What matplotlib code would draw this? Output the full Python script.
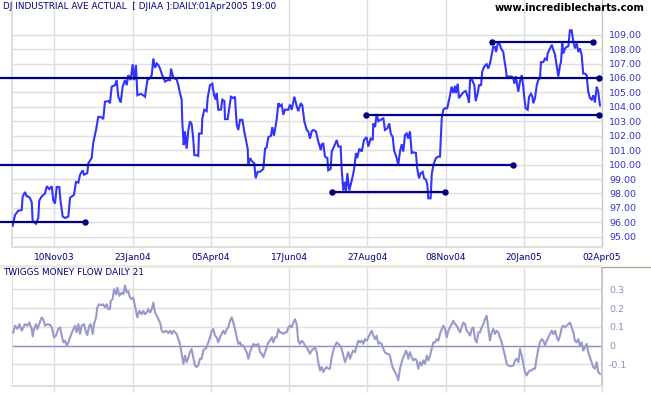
import matplotlib
matplotlib.use("Agg")
import matplotlib.pyplot as plt
from matplotlib.patches import Rectangle
from matplotlib.lines import Line2D

# ---------------- data ----------------
tick_days = [27, 77, 127, 177, 227, 277, 327, 377]
tick_labels = ["10Nov03", "23Jan04", "05Apr04", "17Jun04", "27Aug04", "08Nov04", "20Jan05", "02Apr05"]

price_day = [0.4, 1.9, 4.0, 6.2, 6.8, 8.3, 9.4, 10.4, 11.5, 12.6, 13.2, 15.3, 16.8, 17.4, 19.0,
             21.1, 22.2, 23.8, 25.4, 26.4, 27.5, 28.6, 30.2, 31.1, 32.4, 33.9, 36.0, 37.1, 39.6,
             40.9, 42.4, 43.5, 45.2, 46.0, 48.1, 48.8, 50.9, 51.9, 53.7, 55.1, 56.7, 58.3, 59.4,
             61.5, 62.6, 63.7, 65.8, 66.9, 67.9, 69.5, 70.7, 72.2, 73.3, 74.3, 75.8, 77.1, 78.0,
             79.2, 80.1, 82.2, 83.9, 85.0, 86.5, 88.2, 89.3, 90.3, 91.4, 92.5, 93.5, 94.6, 96.0,
             97.8, 99.5, 101.0, 101.6, 103.1, 105.2, 106.3, 107.3, 108.4, 108.8, 109.7, 110.5,
             111.6, 112.7, 113.7, 114.8, 115.8, 116.5, 118.0, 119.0, 119.5, 121.2, 121.6, 122.9,
             124.4, 125.0, 126.5, 128.0, 129.1, 130.2, 130.8, 131.8, 133.5, 134.4, 135.7, 136.1,
             137.8, 138.7, 139.9, 141.4, 142.5, 142.9, 143.6, 144.6, 145.7, 147.2, 148.4, 149.3,
             150.6, 151.0, 152.1, 153.5, 154.8, 155.7, 157.0, 158.5, 160.6, 161.7, 162.7, 163.8,
             165.5, 166.3, 167.4, 169.1, 170.2, 171.2, 172.3, 173.4, 174.4, 176.5, 177.6, 178.7,
             180.4, 181.9, 182.9, 184.5, 185.5, 186.8, 188.3, 189.3, 190.4, 191.5, 192.5, 194.2,
             195.7, 197.3, 197.9, 198.9, 200.0, 201.5, 202.1, 203.6, 204.3, 205.8, 207.5, 208.5,
             210.0, 210.7, 211.7, 212.8, 213.4, 214.3, 215.5, 217.1, 218.5, 219.8, 220.6, 221.9,
             223.5, 224.9, 226.6, 227.7, 229.2, 230.5, 230.9, 232.0, 233.0, 234.1, 235.6, 237.3,
             238.3, 239.8, 241.1, 242.0, 243.3, 244.1, 245.8, 246.8, 247.9, 249.0, 250.0, 251.1,
             252.2, 253.2, 254.3, 255.4, 256.4, 258.1, 258.9, 260.1, 261.1, 262.4, 263.3, 264.5,
             265.4, 266.0, 267.5, 268.2, 269.2, 270.9, 272.4, 273.5, 273.9, 274.6, 275.6, 276.7,
             278.1, 279.9, 280.9, 282.0, 283.1, 283.7, 284.8, 285.6, 286.9, 288.4, 289.9, 291.2,
             292.0, 292.7, 294.1, 295.4, 296.3, 297.6, 298.4, 299.7, 300.5, 301.8, 303.3, 304.3,
             305.4, 306.5, 307.5, 308.6, 309.3, 310.4, 311.4, 312.5, 313.9, 314.6, 315.5, 316.1,
             317.6, 319.3, 320.3, 321.0, 321.8, 322.5, 323.5, 324.6, 325.7, 326.7, 327.4, 328.2,
             329.5, 330.4, 331.6, 332.5, 333.1, 334.2, 335.3, 336.3, 337.4, 338.0, 339.5, 340.6,
             341.7, 342.3, 343.8, 344.9, 345.9, 347.0, 348.0, 349.1, 350.2, 350.8, 351.6, 352.3,
             353.4, 354.4, 355.5, 356.5, 357.6, 358.7, 359.7, 360.8, 361.9, 362.9, 364.0, 365.0,
             366.1, 367.2, 368.2, 369.3, 370.4, 371.4, 372.5, 373.6, 374.6, 375.7]
price_close = [95.76, 96.5, 96.8, 96.85, 97.77, 98.1, 97.8, 97.8, 97.66, 97.4, 96.1, 95.9, 96.3, 97.5, 97.8,
               98.0, 98.5, 98.3, 98.5, 97.5, 97.3, 98.45, 98.45, 97.4, 96.4, 96.3, 96.4, 97.7, 97.9,
               98.8, 98.75, 99.3, 99.6, 99.3, 99.4, 100.1, 100.45, 101.5, 102.4, 103.3, 103.3, 103.15, 104.35,
               104.4, 104.25, 105.4, 105.5, 105.85, 104.7, 104.3, 105.4, 105.85, 105.5, 106.2, 105.85, 106.95, 105.85,
               106.9, 104.8, 104.9, 104.8, 104.7, 105.85, 106.0, 106.2, 107.35, 106.7, 107.0, 106.9, 106.65, 106.2,
               105.75, 105.85, 105.85, 106.65, 106.0, 105.9, 105.5, 104.95, 104.5, 103.0, 101.35, 102.3,
               101.1, 102.4, 103.0, 102.8, 101.8, 100.65, 100.65, 100.6, 102.15, 102.15, 103.2, 103.8,
               103.7, 104.6, 105.5, 105.6, 104.8, 104.5, 104.95, 103.8, 103.8, 104.5, 104.4, 103.15,
               103.15, 103.8, 104.7, 104.6, 104.7, 103.9, 102.75, 102.4, 103.1, 103.1, 102.3, 101.8,
               101.1, 99.97, 100.45, 100.2, 100.1, 99.05, 99.5, 99.5, 99.7, 101.1, 101.2, 101.9,
               102.0, 102.6, 102.0, 103.1, 104.25, 104.05, 104.15, 103.45, 103.8, 103.8, 104.15, 103.8,
               104.7, 104.05, 103.7, 104.25, 104.1, 103.0, 102.4, 102.3, 101.8, 102.3, 102.4, 102.3,
               101.6, 101.0, 101.4, 101.45, 100.55, 100.45, 99.6, 99.7, 100.9, 101.25, 101.7, 101.25,
               101.25, 99.6, 98.2, 98.8, 98.2, 99.4, 98.2, 98.9, 99.6, 100.8, 100.45, 101.1,
               100.9, 101.7, 101.9, 101.25, 101.8, 101.7, 102.85, 102.6, 103.5, 103.0, 103.1, 103.2,
               102.4, 102.5, 102.85, 102.15, 101.9, 101.0, 100.45, 99.97, 100.9, 101.4, 100.9, 102.05,
               102.15, 101.8, 102.3, 100.8, 100.85, 100.8, 99.75, 99.05, 99.4, 99.5, 99.05, 98.95,
               98.6, 97.66, 97.66, 99.3, 99.97, 100.45, 100.55, 100.55, 101.6, 103.2, 103.8, 103.9,
               103.9, 104.8, 105.4, 104.95, 105.45, 104.95, 105.6, 104.6, 104.8, 105.0, 105.1, 104.7,
               104.3, 105.85, 105.85, 105.5, 104.4, 104.95, 105.5, 105.5, 106.45, 106.8, 106.95, 106.65,
               107.0, 107.6, 108.15, 108.15, 107.8, 108.4, 108.4, 108.05, 107.8, 107.25, 106.65, 106.1,
               106.1, 106.1, 106.0, 105.6, 106.1, 105.75, 105.05, 105.75, 106.2, 105.4, 104.6, 103.9,
               103.8, 104.7, 104.9, 104.7, 104.25, 104.6, 105.5, 105.85, 106.0, 107.1, 107.1, 107.35,
               107.25, 107.7, 108.05, 108.3, 107.95, 107.6, 106.9, 106.1, 106.9, 107.1, 108.4, 107.7,
               108.05, 108.15, 108.2, 109.3, 109.3, 108.5, 108.05, 108.4, 107.8, 108.05, 107.6, 106.3,
               106.3, 106.2, 105.05, 104.6, 104.5, 104.8, 104.3, 105.4, 105.05, 104.1]

# support / resistance lines: level, start day, end day, dot at start
line_level = [106.0, 100.0, 96.0, 98.1, 103.4, 108.47]
line_start = [-8, -8, -8, 204.3, 226.0, 306.9]
line_end = [375.0, 320.4, 46.8, 276.9, 375.3, 371.0]
line_start_dot = [False, False, False, True, True, True]

mf_day = [0.8, 1.9, 3.4, 4.7, 6.2, 7.2, 8.3, 9.8, 11.1, 12.6, 13.2, 14.1, 15.3, 16.2, 17.4, 19.0,
          20.0, 21.1, 22.6, 24.3, 25.4, 26.8, 28.1, 29.6, 30.7, 31.8, 32.8, 33.9, 35.0, 36.0,
          37.5, 38.8, 40.3, 41.3, 42.4, 43.5, 44.5, 46.0, 47.3, 48.1, 49.4, 50.3, 51.6, 52.4,
          53.7, 54.5, 55.8, 57.3, 58.3, 59.4, 60.5, 61.5, 62.6, 63.1, 64.3, 65.2, 66.5, 67.3,
          68.6, 70.1, 71.1, 72.2, 73.3, 74.3, 75.4, 76.5, 77.5, 78.6, 79.2, 80.1, 81.3, 82.9,
          83.9, 85.0, 86.1, 87.1, 88.2, 89.3, 90.3, 91.4, 92.5, 93.5, 94.6, 95.7, 96.7, 98.4,
          99.9, 101.0, 102.1, 103.1, 104.2, 105.2, 106.3, 107.4, 108.4, 109.5, 110.5, 111.6,
          112.7, 113.7, 114.8, 115.8, 116.9, 118.0, 119.0, 120.1, 121.2, 122.2, 123.3, 124.4,
          125.4, 126.5, 127.6, 128.6, 129.7, 130.8, 131.8, 132.9, 134.0, 135.0, 136.1, 137.2,
          138.2, 139.3, 140.4, 141.4, 142.5, 143.6, 144.6, 145.7, 146.8, 147.8, 148.9, 150.0,
          151.0, 152.1, 153.2, 154.2, 155.9, 157.4, 158.5, 159.6, 160.6, 161.7, 162.7, 163.8,
          164.9, 166.0, 167.0, 168.1, 169.1, 170.2, 171.3, 172.3, 173.4, 174.4, 175.5, 176.6,
          177.6, 178.7, 179.8, 180.8, 181.9, 182.9, 184.0, 185.1, 186.2, 187.2, 188.3, 189.3,
          190.4, 191.5, 192.5, 193.6, 194.7, 195.7, 196.8, 197.9, 198.9, 200.0, 201.1, 202.1,
          203.2, 204.3, 205.3, 206.4, 207.5, 208.5, 209.6, 210.7, 211.7, 212.8, 213.9, 214.9,
          216.0, 217.1, 218.1, 219.2, 220.3, 221.3, 222.4, 223.5, 224.5, 225.6, 226.6, 227.7,
          228.8, 229.8, 230.9, 232.0, 233.0, 234.1, 235.2, 236.2, 237.3, 238.3, 239.4, 240.5,
          241.5, 242.6, 243.6, 244.7, 245.8, 246.8, 247.9, 249.0, 250.0, 251.1, 251.8, 252.6,
          253.2, 254.3, 255.4, 256.4, 257.5, 258.6, 259.6, 260.7, 261.8, 262.8, 263.9, 265.0,
          266.0, 267.1, 268.2, 269.2, 270.3, 271.4, 272.4, 273.5, 274.6, 275.6, 276.7, 277.8,
          278.8, 279.9, 280.9, 282.0, 283.1, 284.2, 285.2, 286.3, 287.3, 288.4, 289.5, 290.5,
          291.6, 292.7, 293.7, 294.8, 295.8, 296.9, 298.0, 299.0, 300.1, 301.2, 302.2, 303.3,
          304.4, 305.4, 306.5, 307.6, 308.6, 309.7, 310.7, 311.8, 312.9, 313.9, 315.0, 316.1,
          317.1, 318.7, 320.4, 321.4, 322.5, 323.6, 324.6, 325.7, 326.7, 327.8, 328.9, 329.9,
          331.0, 332.1, 333.1, 334.2, 335.3, 336.3, 337.4, 338.5, 339.5, 340.6, 341.7, 342.7,
          343.8, 344.9, 345.9, 347.0, 348.1, 349.1, 350.2, 351.3, 352.3, 353.4, 354.4, 355.5,
          356.6, 357.6, 358.7, 359.7, 360.8, 361.9, 362.9, 364.0, 365.0, 366.1, 367.2, 368.2,
          369.3, 370.4, 371.4, 372.5, 373.6, 374.6, 375.7]
mf_value = [0.07, 0.106, 0.088, 0.114, 0.079, 0.097, 0.114, 0.106, 0.123, 0.088, 0.049, 0.088, 0.114, 0.088, 0.114, 0.15,
            0.138, 0.106, 0.114, 0.11, 0.097, 0.044, 0.053, 0.088, 0.097, 0.053, 0.017, 0.026, 0.0, 0.017,
            0.053, 0.079, 0.106, 0.07, 0.114, 0.062, 0.106, 0.114, 0.07, 0.056, 0.106, 0.114, 0.062, 0.114,
            0.15, 0.203, 0.22, 0.215, 0.22, 0.203, 0.22, 0.194, 0.194, 0.238, 0.247, 0.30, 0.273, 0.308,
            0.264, 0.282, 0.273, 0.32, 0.282, 0.29, 0.255, 0.247, 0.255, 0.211, 0.185, 0.15, 0.185, 0.167,
            0.185, 0.167, 0.176, 0.194, 0.176, 0.194, 0.229, 0.176, 0.159, 0.141, 0.123, 0.079, 0.07, 0.079,
            0.067, 0.079, 0.062, 0.079, 0.07, 0.062, 0.035, 0.007, -0.044, -0.097, -0.053, -0.088,
            -0.062, -0.035, -0.018, -0.062, -0.106, -0.114, -0.106, -0.07, -0.07, -0.026, -0.018, -0.009,
            0.017, 0.044, 0.079, 0.088, 0.053, 0.044, 0.017, 0.044, 0.062, 0.079, 0.062, 0.088,
            0.097, 0.132, 0.15, 0.123, 0.088, 0.044, 0.009, 0.017, 0.0, 0.0, -0.018, -0.035,
            -0.07, -0.035, -0.009, 0.009, 0.0, 0.009, -0.035, -0.044, -0.062, -0.035, -0.009, 0.017,
            0.026, 0.044, 0.017, 0.044, 0.044, 0.088, 0.07, 0.07, 0.062, 0.07, 0.07, 0.097,
            0.106, 0.097, 0.123, 0.141, 0.114, 0.026, 0.009, 0.026, 0.017, 0.0, -0.009, -0.026,
            -0.044, -0.026, -0.018, -0.009, -0.035, -0.088, -0.132, -0.114, -0.141, -0.123, -0.114, -0.123,
            -0.123, -0.062, -0.026, 0.0, 0.017, 0.009, 0.0, -0.018, -0.053, -0.088, -0.062, -0.035,
            -0.07, -0.044, -0.026, -0.035, 0.0, 0.026, 0.017, 0.026, 0.009, 0.035, 0.026, 0.044,
            0.062, 0.079, 0.053, 0.035, 0.053, 0.009, 0.017, 0.009, -0.018, -0.035, -0.044, -0.044,
            -0.053, -0.097, -0.123, -0.141, -0.159, -0.185, -0.123, -0.088, -0.062, -0.044, -0.026, -0.044,
            -0.07, -0.035, -0.062, -0.079, -0.07, -0.079, -0.123, -0.088, -0.106, -0.079, -0.097, -0.053,
            -0.079, -0.053, -0.018, 0.017, 0.017, 0.035, 0.026, 0.062, 0.088, 0.106, 0.088, 0.044,
            0.079, 0.097, 0.114, 0.132, 0.114, 0.106, 0.088, 0.07, 0.097, 0.123, 0.114, 0.079,
            0.07, 0.053, 0.088, 0.097, 0.035, 0.017, 0.07, 0.07, 0.097, 0.114, 0.141, 0.159,
            0.088, 0.026, 0.07, 0.088, 0.062, 0.079, 0.07, 0.044, 0.017, -0.018, -0.053, -0.097,
            -0.106, -0.11, -0.106, -0.079, -0.07, -0.088, -0.018, -0.053, -0.097, -0.141, -0.159, -0.141,
            -0.132, -0.132, -0.123, -0.123, -0.062, -0.018, 0.017, 0.035, 0.026, 0.0, 0.026, 0.044,
            0.062, 0.079, 0.062, 0.079, 0.044, 0.026, 0.053, 0.097, 0.106, 0.097, 0.106, 0.114,
            0.123, 0.097, 0.07, 0.026, 0.017, 0.035, 0.0, 0.017, -0.026, -0.009, 0.009, -0.035,
            -0.062, -0.088, -0.114, -0.123, -0.088, -0.141, -0.15]

price_ticks = list(range(95, 110))
mf_ticks = [-0.1, 0.0, 0.1, 0.2, 0.3]
mf_tick_labels = ["-0.1", "0", "0.1", "0.2", "0.3"]

title_text = "DJ INDUSTRIAL AVE ACTUAL  [ DJIAA ]:DAILY:01Apr2005 19:00"
site_text = "www.incrediblecharts.com"
mf_title = "TWIGGS MONEY FLOW DAILY 21"

# ---------------- styling ----------------
W, H = 651, 395
GRID = "#dedede"
NAVY = "#000080"
PRICE_C = "#3333ff"
MF_C = "#9999cc"

plt.rcParams['font.family'] = ['DejaVu Sans']
fig = plt.figure(figsize=(W / 100, H / 100), dpi=100)
fig.patch.set_facecolor("white")


def fx(px):
    return px / W


def fy(py):
    return 1 - py / H


ax1 = fig.add_axes([fx(12), fy(247), fx(590), 247 / H])
ax2 = fig.add_axes([fx(12), fy(386), fx(590), 118 / H])

# --- price panel ---
ax1.set_xlim(0, 377)
ax1.set_ylim(94.29, 111.40)
ax1.set_xticks(tick_days)
ax1.set_xticklabels(tick_labels, fontsize=6.5, color=NAVY)
ax1.set_yticks(price_ticks)
ax1.set_yticklabels(["%.2f" % v for v in price_ticks], fontsize=6.8, color="#3333cc")
ax1.yaxis.tick_right()
ax1.tick_params(axis='y', length=0, pad=5)
ax1.tick_params(axis='x', length=0, pad=4)
ax1.grid(True, color=GRID, lw=1.0)
ax1.set_axisbelow(True)
ax1.spines["top"].set_visible(False)
for s in ["left", "bottom"]:
    ax1.spines[s].set_color(GRID)
    ax1.spines[s].set_linewidth(1.4)
ax1.spines["right"].set_color("#c8c8c8")
ax1.spines["right"].set_linewidth(1.0)

ax1.plot(price_day, price_close, color=PRICE_C, lw=1.5, zorder=3, solid_joinstyle='miter')

for lvl, x0, x1, d0 in zip(line_level, line_start, line_end, line_start_dot):
    ax1.plot([x0, x1], [lvl, lvl], color=NAVY, lw=1.6, zorder=4, clip_on=False)
    ax1.plot([x1], [lvl], 'o', color=NAVY, ms=3.6, zorder=5, clip_on=False)
    if d0:
        ax1.plot([x0], [lvl], 'o', color=NAVY, ms=3.6, zorder=5, clip_on=False)

# --- money flow panel ---
ax2.set_xlim(0, 377)
ax2.set_ylim(-0.215, 0.413)
ax2.set_xticks(tick_days)
ax2.set_xticklabels([])
ax2.set_yticks(mf_ticks)
ax2.set_yticklabels(mf_tick_labels, fontsize=6.8, color="#8c8cbc")
ax2.yaxis.tick_right()
ax2.tick_params(axis='y', length=0, pad=5)
ax2.tick_params(axis='x', length=4, width=1.0, color=GRID, direction='out')
ax2.grid(True, color=GRID, lw=1.0)
ax2.set_axisbelow(True)
ax2.spines["top"].set_visible(False)
ax2.spines["left"].set_color(GRID)
ax2.spines["bottom"].set_color(GRID)
ax2.spines["bottom"].set_linewidth(1.4)
ax2.spines["right"].set_color("#c8c8c8")
ax2.spines["right"].set_linewidth(1.4)
ax2.axhline(0, color="#9090c8", lw=1.0, zorder=2)
ax2.plot(mf_day, mf_value, color=MF_C, lw=1.5, zorder=3)

# separator band between panels
fig.patches.append(Rectangle((0, fy(268)), fx(602), 3 / H, transform=fig.transFigure,
                             facecolor="#ebeadf", edgecolor="none", zorder=0))
fig.lines.append(Line2D([fx(602), 1], [fy(266.5), fy(266.5)], transform=fig.transFigure,
                        color="#aca78a", lw=1.0))

# texts
fig.text(fx(3), fy(6.5), title_text, fontsize=6.4, color=NAVY, va='center', ha='left')
fig.text(fx(645), fy(8), site_text, fontsize=7.2, color="black", fontweight='bold',
         va='center', ha='right')
fig.text(fx(3), fy(272.5), mf_title, fontsize=6.4, color=NAVY, va='center', ha='left')

fig.savefig("out.png", dpi=100, facecolor="white")
